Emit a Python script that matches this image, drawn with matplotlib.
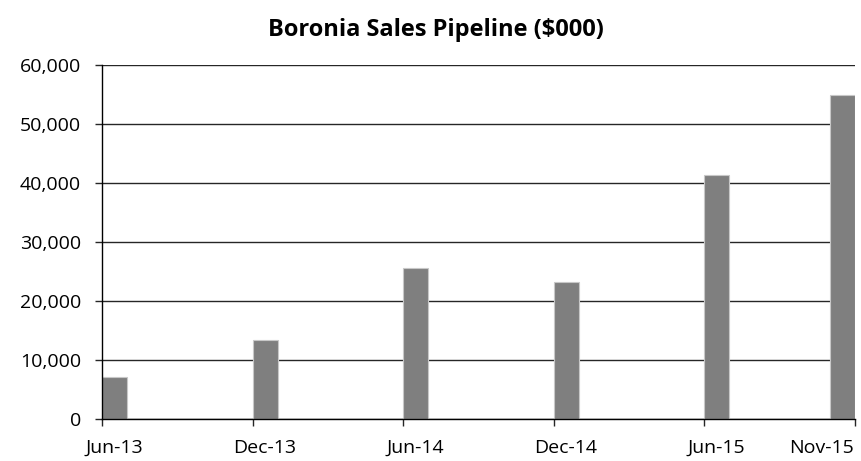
import matplotlib
matplotlib.use("Agg")
import matplotlib.pyplot as plt
from matplotlib.ticker import FuncFormatter, FixedLocator

plt.rcParams['font.family'] = ['Open Sans', 'DejaVu Sans']

# Data
labels = ["Jun-13", "Dec-13", "Jun-14", "Dec-14", "Jun-15", "Nov-15"]
month_index = [0, 6, 12, 18, 24, 29]   # months since Jun-13
values = [7200, 13500, 25600, 23200, 41450, 55000]
n_months = 30

fig = plt.figure(figsize=(8.62, 4.61), dpi=100)
ax = fig.add_axes([102/862, 1-419.3/461, (854.6-102)/862, (419.3-65.3)/461])

ax.bar(month_index, values, width=1.0, align='edge', color='#7f7f7f',
       edgecolor='#c8c8c8', linewidth=0.8, zorder=3)

ax.set_xlim(0, n_months)
ax.set_ylim(0, 60000)
ax.set_yticks(range(0, 60001, 10000))
ax.yaxis.set_major_formatter(FuncFormatter(lambda v, p: f"{int(v):,}"))
ax.grid(axis='y', color='#262626', linewidth=1.0, zorder=0)

# x ticks at slot boundaries, labels at slot centres (last one kept inside the figure)
ax.xaxis.remove_overlapping_locs = False
ax.xaxis.set_major_locator(FixedLocator([0, 6, 12, 18, 24, n_months]))
ax.set_xticklabels([])
label_pos = [m + 0.5 for m in month_index[:-1]] + [n_months - 0.01]
ax.xaxis.set_minor_locator(FixedLocator(label_pos))
ax.set_xticklabels(labels, minor=True)
ax.tick_params(axis='x', which='minor', length=0, labelsize=14, pad=14)
ax.tick_params(axis='x', which='major', length=5, width=1, color='#262626', direction='out')
ax.tick_params(axis='y', length=5, width=1, color='#262626', labelsize=14, pad=10)
ax.get_xticklabels(minor=True)[-1].set_horizontalalignment('right')

for s in ['top', 'right']:
    ax.spines[s].set_visible(False)
for s in ['left', 'bottom']:
    ax.spines[s].set_color('black')
    ax.spines[s].set_linewidth(1.0)
    ax.spines[s].set_zorder(4)

fig.text(436/862, 1-30/461, "Boronia Sales Pipeline ($000)", ha='center', va='center',
         fontsize=17, fontweight='bold')

fig.savefig("out.png", dpi=100)
